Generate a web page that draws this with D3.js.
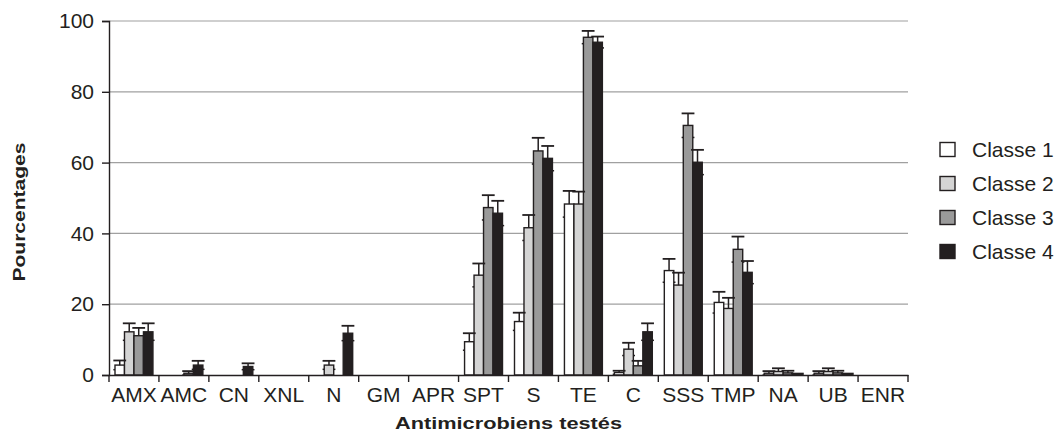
<!DOCTYPE html>
<html>
<head>
<meta charset="utf-8">
<script src="https://cdn.jsdelivr.net/npm/d3@7"></script>
<style>
  body { margin: 0; background: #fff; }
  svg { font-family: "Liberation Sans", Arial, sans-serif; }
</style>
</head>
<body>
<div id="chart"></div>
<script>
"use strict";

const categories = ["AMX", "AMC", "CN", "XNL", "N", "GM", "APR", "SPT", "S", "TE", "C", "SSS", "TMP", "NA", "UB", "ENR"];
const classes = ["Classe 1", "Classe 2", "Classe 3", "Classe 4"];
const classColors = ["#ffffff", "#d4d4d4", "#9a9a9a", "#231f20"];

// pourcentages par classe (un tableau par antimicrobien, dans l'ordre des classes)
const values = [
  [2.8, 12.2, 11.1, 12.2],
  [0, 0, 0.5, 2.8],
  [0, 0, 0, 2.4],
  [0, 0, 0, 0],
  [0, 2.8, 0, 11.8],
  [0, 0, 0, 0],
  [0, 0, 0, 0],
  [9.4, 28.2, 47.3, 45.7],
  [15.1, 41.6, 63.3, 61.2],
  [48.3, 48.3, 95.4, 94.0],
  [0.7, 7.3, 2.6, 12.2],
  [29.5, 25.4, 70.5, 60.1],
  [20.5, 18.8, 35.5, 29.0],
  [0.5, 1.0, 0.6, 0.2],
  [0.5, 1.0, 0.6, 0.2],
  [0, 0, 0, 0]
];
// erreurs (barres d'erreur)
const errors = [
  [1.3, 2.4, 2.2, 2.4],
  [0, 0, 0.6, 1.2],
  [0, 0, 0, 0.9],
  [0, 0, 0, 0],
  [0, 1.2, 0, 2.1],
  [0, 0, 0, 0],
  [0, 0, 0, 0],
  [2.4, 3.3, 3.5, 3.5],
  [2.5, 3.6, 3.7, 3.5],
  [3.7, 3.5, 1.8, 1.6],
  [0.5, 1.8, 1.4, 2.4],
  [3.3, 3.5, 3.4, 3.5],
  [3.0, 3.0, 3.6, 3.2],
  [0.6, 0.9, 0.6, 0.2],
  [0.6, 0.9, 0.6, 0.2],
  [0, 0, 0, 0]
];
const yTicks = [0, 20, 40, 60, 80, 100];

const width = 1056, height = 434;
const margin = {left: 109, right: 148, top: 21, bottom: 59};
const plotW = width - margin.left - margin.right;
const plotH = height - margin.top - margin.bottom;
const ink = "#231f20";

const svg = d3.select("#chart").append("svg")
    .attr("width", width)
    .attr("height", height);

const g = svg.append("g").attr("transform", `translate(${margin.left},${margin.top})`);

const x = d3.scaleBand().domain(categories).range([0, plotW]).paddingInner(0).paddingOuter(0);
const xs = d3.scaleBand().domain(d3.range(classes.length)).range([6, x.bandwidth() - 6]).padding(0);
const y = d3.scaleLinear().domain([0, 100]).range([plotH, 0]);

// grille
g.selectAll(".grid")
    .data(yTicks.filter(d => d > 0))
    .enter()
    .append("line")
    .attr("x1", 0).attr("x2", plotW)
    .attr("y1", d => y(d)).attr("y2", d => y(d))
    .style("stroke", "#a0a0a0")
    .style("stroke-width", 1.2);

const flat = [];
categories.forEach((c, i) => {
  values[i].forEach((v, k) => flat.push({cat: c, k: k, v: v, e: errors[i][k]}));
});

const bw = xs.bandwidth();
const capW = bw * 1.35;
const cx = d => x(d.cat) + xs(d.k) + bw / 2;

// moitié basse des barres d'erreur (sous les barres)
const low = g.append("g");
flat.filter(d => d.e > 0).forEach(d => {
  low.append("line").attr("x1", cx(d)).attr("x2", cx(d)).attr("y1", y(d.v)).attr("y2", y(Math.max(0, d.v - d.e)))
      .style("stroke", ink).style("stroke-width", 1.5);
  low.append("line").attr("x1", cx(d) - capW / 2).attr("x2", cx(d) + capW / 2)
      .attr("y1", y(Math.max(0, d.v - d.e))).attr("y2", y(Math.max(0, d.v - d.e)))
      .style("stroke", ink).style("stroke-width", 1.5);
});

// barres
g.selectAll(".bar")
    .data(flat)
    .enter()
    .append("rect")
    .attr("x", d => x(d.cat) + xs(d.k))
    .attr("y", d => y(d.v))
    .attr("width", bw)
    .attr("height", d => y(0) - y(d.v))
    .style("fill", d => classColors[d.k])
    .style("stroke", ink)
    .style("stroke-width", 1.4);

// moitié haute des barres d'erreur
const high = g.append("g");
flat.filter(d => d.e > 0).forEach(d => {
  high.append("line").attr("x1", cx(d)).attr("x2", cx(d)).attr("y1", y(d.v)).attr("y2", y(d.v + d.e))
      .style("stroke", ink).style("stroke-width", 1.5);
  high.append("line").attr("x1", cx(d) - capW / 2).attr("x2", cx(d) + capW / 2)
      .attr("y1", y(d.v + d.e)).attr("y2", y(d.v + d.e))
      .style("stroke", ink).style("stroke-width", 1.8);
});

// axe Y
const yAxis = g.append("g")
    .call(d3.axisLeft(y).tickValues(yTicks).tickSize(7).tickPadding(8));
yAxis.select(".domain").style("stroke", ink).style("stroke-width", 1.4);
yAxis.selectAll(".tick line").style("stroke", ink).style("stroke-width", 1.4);
yAxis.selectAll("text").style("font-size", "21px").style("fill", ink);

// axe X
const xAxis = g.append("g")
    .attr("transform", `translate(0,${plotH})`)
    .call(d3.axisBottom(x).tickSize(0).tickPadding(12));
xAxis.select(".domain").style("stroke", ink).style("stroke-width", 1.4);
xAxis.selectAll("text").style("font-size", "21px").style("fill", ink);

g.selectAll(".xtick")
    .data(d3.range(categories.length + 1))
    .enter()
    .append("line")
    .attr("x1", i => i * x.step()).attr("x2", i => i * x.step())
    .attr("y1", plotH).attr("y2", plotH + 7)
    .style("stroke", ink)
    .style("stroke-width", 1.4);

// titres des axes
svg.append("text")
    .attr("x", margin.left + plotW / 2)
    .attr("y", 429)
    .attr("text-anchor", "middle")
    .attr("textLength", 227)
    .attr("lengthAdjust", "spacingAndGlyphs")
    .style("font-size", "17px")
    .style("font-weight", "bold")
    .style("fill", ink)
    .text("Antimicrobiens testés");

svg.append("text")
    .attr("transform", `translate(25,212) rotate(-90)`)
    .attr("text-anchor", "middle")
    .attr("textLength", 139)
    .attr("lengthAdjust", "spacingAndGlyphs")
    .style("font-size", "17px")
    .style("font-weight", "bold")
    .style("fill", ink)
    .text("Pourcentages");

// légende
const legend = svg.append("g").attr("transform", "translate(940,142.5)");
classes.forEach((c, i) => {
  const row = legend.append("g").attr("transform", `translate(0,${i * 34})`);
  row.append("rect")
      .attr("width", 15).attr("height", 14)
      .style("fill", classColors[i])
      .style("stroke", ink)
      .style("stroke-width", 1.4);
  row.append("text")
      .attr("x", 32).attr("y", 7)
      .attr("dominant-baseline", "central")
      .style("font-size", "21px")
      .style("fill", ink)
      .text(c);
});
</script>
</body>
</html>
